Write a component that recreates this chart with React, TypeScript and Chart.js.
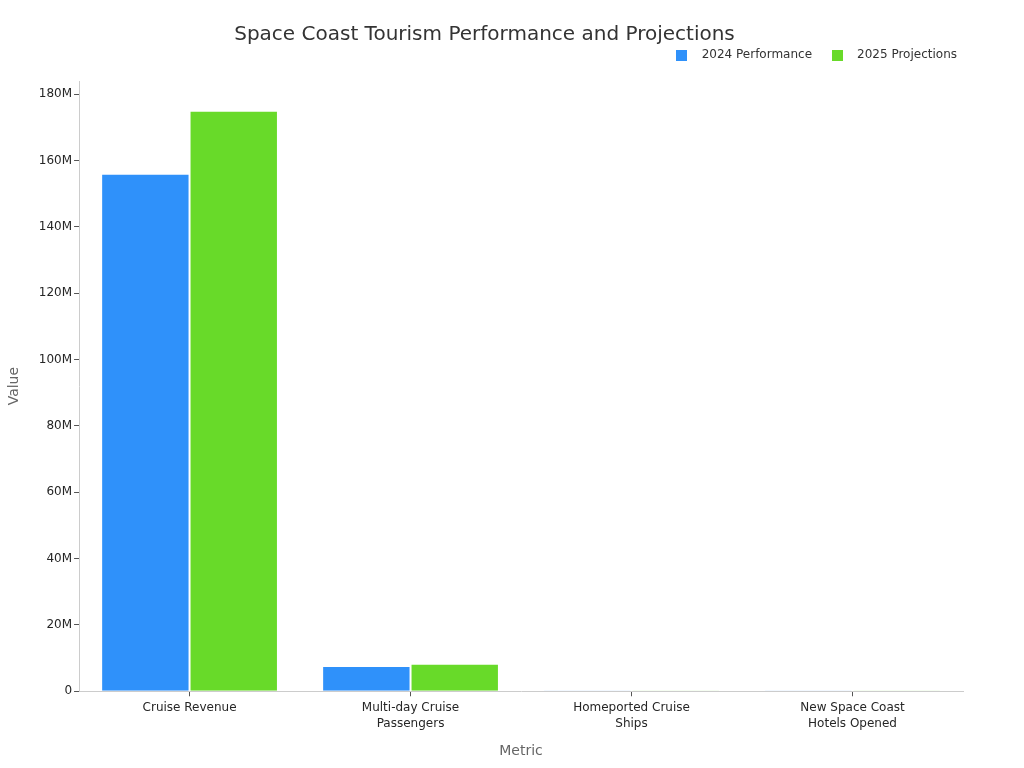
import { useEffect, useRef } from 'react';
import { Chart, registerables } from 'chart.js';

Chart.register(...registerables);

const categories = [
  ['Cruise Revenue'],
  ['Multi-day Cruise', 'Passengers'],
  ['Homeported Cruise', 'Ships'],
  ['New Space Coast', 'Hotels Opened'],
];
const performance2024 = [156000000, 7600000, 17, 6];
const projections2025 = [175000000, 8300000, 19, 8];
const seriesLabels = ['2024 Performance', '2025 Projections'];
const seriesColors = ['#2F91FA', '#68DA29'];
const yTickValues = [0, 20e6, 40e6, 60e6, 80e6, 100e6, 120e6, 140e6, 160e6, 180e6];

const FONT = "'DejaVu Sans', sans-serif";

// small square swatch drawn as a legend point style
function swatch(color: string) {
  const c = document.createElement('canvas');
  c.width = 11;
  c.height = 11;
  const ctx = c.getContext('2d');
  if (ctx) {
    ctx.fillStyle = color;
    ctx.fillRect(0, 0, 11, 11);
  }
  return c;
}

function fmt(v: number) {
  if (v === 0) return '0';
  return `${Math.round(v / 1e6)}M`;
}

// leaves some room between the legend and the plot, nudges it right
const legendGap = {
  id: 'legendGap',
  beforeLayout(chart: any) {
    const lg = chart.legend;
    if (!lg || lg._gapPatched) return;
    const fit = lg.fit;
    lg.fit = function () {
      fit.call(this);
      this.height += 10;
    };
    lg._gapPatched = true;
  },
  afterLayout(chart: any) {
    if (chart.legend) chart.legend.right += 5;
  },
};

export default function App() {
  const canvasRef = useRef<HTMLCanvasElement>(null);

  useEffect(() => {
    document.body.style.margin = '0';
    if (!canvasRef.current) return;
    const swatches = seriesColors.map(swatch);

    const chart = new Chart(canvasRef.current, {
      type: 'bar',
      data: {
        labels: categories,
        datasets: [
          {
            label: seriesLabels[0],
            data: performance2024,
            backgroundColor: seriesColors[0],
            borderColor: 'rgba(255,255,255,0.85)',
            borderWidth: 1,
          },
          {
            label: seriesLabels[1],
            data: projections2025,
            backgroundColor: seriesColors[1],
            borderColor: 'rgba(255,255,255,0.85)',
            borderWidth: 1,
          },
        ],
      },
      plugins: [legendGap],
      options: {
        animation: false,
        responsive: false,
        datasets: {
          bar: { categoryPercentage: 0.8, barPercentage: 1 },
        },
        layout: { padding: { left: 6, right: 61, top: 0, bottom: 8 } },
        plugins: {
          title: {
            display: true,
            text: 'Space Coast Tourism Performance and Projections',
            color: '#333333',
            font: { family: FONT, size: 20, weight: 'normal', lineHeight: 1 },
            padding: { top: 25, bottom: -7 },
          },
          legend: {
            display: true,
            position: 'top',
            align: 'end',
            labels: {
              color: '#333333',
              font: { family: FONT, size: 12 },
              usePointStyle: true,
              pointStyleWidth: 28,
              padding: 11,
              generateLabels: (c) => {
                const items = Chart.defaults.plugins.legend.labels.generateLabels(c);
                items.forEach((it, i) => {
                  it.pointStyle = swatches[i];
                });
                return items;
              },
            },
          },
          tooltip: { enabled: false },
        },
        scales: {
          x: {
            grid: {
              display: true,
              offset: false,
              drawOnChartArea: false,
              tickLength: 5,
              tickColor: '#555555',
            },
            border: { color: '#cccccc' },
            ticks: {
              color: '#262626',
              font: { family: FONT, size: 12, lineHeight: 1.33 },
              maxRotation: 0,
              padding: 4,
            },
            title: {
              display: true,
              text: 'Metric',
              color: '#666666',
              font: { family: FONT, size: 14 },
              padding: { top: 7, bottom: 0 },
            },
          },
          y: {
            min: 0,
            max: 184000000,
            afterBuildTicks: (scale) => {
              scale.ticks = yTickValues.map((value) => ({ value }));
            },
            grid: {
              display: true,
              drawOnChartArea: false,
              tickLength: 5,
              tickColor: '#555555',
            },
            border: { color: '#cccccc' },
            ticks: {
              color: '#262626',
              font: { family: FONT, size: 12 },
              padding: 2,
              callback: (v) => fmt(Number(v)),
            },
            title: {
              display: true,
              text: 'Value',
              color: '#666666',
              font: { family: FONT, size: 14 },
              padding: { top: 0, bottom: 14 },
            },
          },
        },
      },
    });

    return () => chart.destroy();
  }, []);

  return (
    <div style={{ width: 1024, height: 768 }}>
      <canvas ref={canvasRef} width={1024} height={768} style={{ display: 'block' }} />
    </div>
  );
}
